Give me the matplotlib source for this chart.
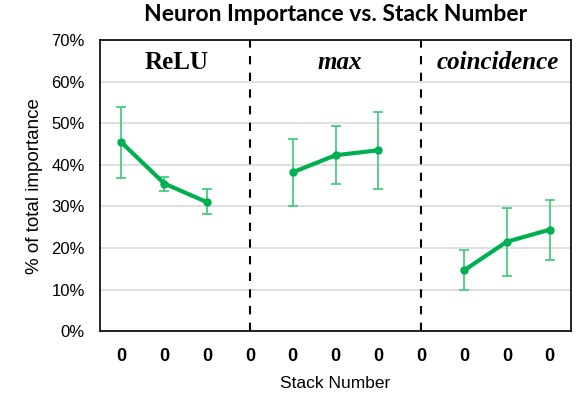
import numpy as np
import matplotlib.pyplot as plt

# category slots 0..10; slots 3 and 7 hold the dashed separators
tick_labels = ['0'] * 11
groups = ['ReLU', 'max', 'coincidence']
group_styles = ['normal', 'italic', 'italic']
group_label_x = [1.28, 5.1, 8.78]
group_x = [[0, 1, 2], [4, 5, 6], [8, 9, 10]]
group_vals = [[45.4, 35.5, 31.0], [38.2, 42.3, 43.5], [14.6, 21.5, 24.4]]
group_hi = [[54.0, 37.0, 34.2], [46.1, 49.3, 52.7], [19.5, 29.7, 31.6]]
group_lo = [[36.8, 33.8, 28.2], [30.2, 35.3, 34.3], [9.8, 13.2, 17.0]]
separators = [3, 7]

green = '#00B050'
err_green = '#3CC878'

fig = plt.figure(figsize=(5.78, 3.97), dpi=100)
ax = fig.add_axes([0.173, 0.166, 0.815, 0.733])

for xs, v, hi, lo in zip(group_x, group_vals, group_hi, group_lo):
    v = np.array(v)
    yerr = [v - np.array(lo), np.array(hi) - v]
    ax.errorbar(xs, v, yerr=yerr, fmt='none', ecolor=err_green, elinewidth=1.2,
                capsize=3.5, capthick=1.2, zorder=3)
    ax.plot(xs, v, color=green, lw=3, marker='o', ms=5, zorder=4)

for s in separators:
    ax.axvline(s, color='black', lw=1.5, ls=(0, (4, 4)), zorder=2)

for name, style, lx in zip(groups, group_styles, group_label_x):
    ax.text(lx, 64.5, name, ha='center', va='center', family='Liberation Serif',
            fontsize=18, fontweight='bold', style=style)

ax.set_xlim(-0.5, 10.5)
ax.set_ylim(0, 70)
ax.set_yticks(range(0, 71, 10))
ax.set_yticklabels([f'{t}%' for t in range(0, 71, 10)], family='Liberation Sans', fontsize=12)
ax.set_xticks(range(11))
ax.set_xticklabels(tick_labels, family='Liberation Sans', fontsize=13, fontweight='bold')
ax.tick_params(length=0, pad=11)
ax.tick_params(axis='x', pad=12)
ax.grid(axis='y', color='#d9d9d9', lw=1.2)
ax.set_axisbelow(True)
for sp in ax.spines.values():
    sp.set_color('black')
    sp.set_linewidth(1.2)

ax.set_ylabel('% of total importance', family='Liberation Sans', fontsize=13.5, labelpad=6)
ax.set_xlabel('Stack Number', family='Liberation Sans', fontsize=12.5, labelpad=8)
ax.set_title('Neuron Importance vs. Stack Number', family='Lato', fontweight='bold',
             fontsize=16.5, pad=14)

fig.savefig('out.png', dpi=100)
